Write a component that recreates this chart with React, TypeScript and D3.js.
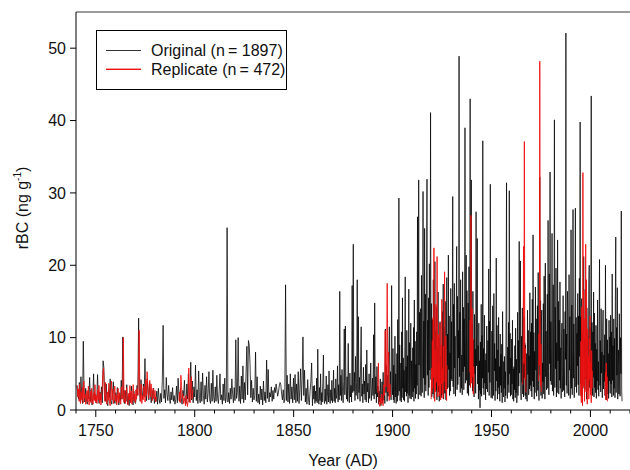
import React from 'react';
import * as d3 from 'd3';

// ---- Data ----
// Original record, 1740.5–1859.9 (25 values per decade)
const originalEarly: number[] = [
  3.4,2.1,1.5,3.8,1.2,4.6,2.0,0.9,9.5,2.2,1.1,3.0,1.4,0.8,2.6,1.5,4.5,1.2,2.8,0.7,1.6,5.0,1.4,2.2,1.0,
  1.3,4.9,1.8,0.9,2.5,1.4,3.2,1.0,6.8,5.9,2.4,1.2,3.6,1.1,0.6,2.9,1.7,4.3,1.3,0.8,2.1,3.9,1.5,0.9,2.4,
  1.0,3.1,1.6,0.7,2.2,1.3,4.1,1.5,10.1,1.8,0.9,2.7,1.2,3.5,0.8,1.9,0.6,2.4,1.1,3.3,1.4,0.7,2.6,1.2,0.9,
  1.6,3.4,2.0,12.7,3.1,1.2,4.2,2.6,1.5,3.6,1.8,7.1,2.2,1.3,4.3,2.5,1.4,3.8,1.9,1.0,2.7,1.5,3.0,0.9,1.8,
  1.2,2.6,0.8,3.0,1.5,0.9,2.3,1.1,4.1,11.7,1.6,2.8,1.0,4.5,2.2,1.3,3.4,1.7,0.9,2.5,1.4,3.1,1.2,2.0,0.8,
  1.5,3.3,1.0,4.4,2.1,1.2,3.0,1.6,0.8,2.7,1.9,4.1,1.3,0.9,3.6,1.5,5.0,1.1,2.4,6.6,1.4,4.0,1.0,3.2,1.8,
  6.2,1.3,2.8,0.9,5.4,1.6,1.0,3.9,1.2,5.1,2.0,0.8,3.4,1.5,4.6,1.1,2.3,5.3,1.4,0.9,3.7,1.2,5.5,1.7,1.0,
  3.2,1.2,4.8,1.6,0.9,2.7,5.0,1.4,2.1,0.8,3.6,1.3,4.4,1.0,1.7,25.2,1.1,2.4,0.9,3.0,1.5,4.3,2.2,1.0,3.1,
  1.3,9.7,1.6,2.4,10.0,1.2,3.3,0.9,4.7,1.5,6.1,1.0,3.8,1.4,5.2,8.8,2.1,9.6,9.0,6.4,1.7,4.1,1.1,3.0,1.4,
  2.0,8.0,1.2,4.6,1.0,2.2,0.8,3.3,1.4,2.9,0.7,4.0,1.3,2.5,1.0,6.9,1.6,5.6,1.1,2.4,1.8,3.2,1.2,2.7,1.5,
  3.1,2.4,3.6,2.8,1.9,2.5,3.3,3.8,3.5,2.2,1.4,2.8,1.0,1.6,17.3,1.3,4.8,1.1,3.6,0.9,5.0,1.5,3.2,1.0,4.4,
  1.4,4.9,1.0,3.6,1.2,5.3,0.9,2.8,5.7,1.3,4.4,10.1,2.0,5.5,1.1,3.0,0.8,4.2,1.5,0.7,2.6,4.0,6.5,0.6,3.3,
];
// Original record, 1860.2–1899.8 (35 values per decade)
const originalMid: number[] = [
  1.5,3.4,0.9,2.6,1.2,4.4,1.0,8.4,1.6,0.8,3.1,1.3,5.0,0.7,2.4,1.1,3.8,7.6,1.4,0.9,2.9,1.2,4.7,0.8,1.9,3.5,1.1,5.4,1.6,0.9,2.8,1.3,4.1,1.0,2.2,
  5.5,1.2,3.0,1.0,4.3,1.6,2.2,6.1,1.1,3.5,1.4,16.4,2.0,4.8,1.3,5.6,2.5,1.0,3.9,11.2,2.1,11.6,3.3,1.5,4.6,1.2,9.2,2.7,1.0,5.1,1.8,3.4,1.1,17.2,2.4,
  22.9,2.6,5.2,1.3,7.4,2.0,3.8,18.0,1.5,12.9,2.4,4.5,1.2,6.8,11.5,1.9,3.6,1.0,5.9,2.2,4.0,1.4,6.3,1.1,8.3,2.5,3.7,1.0,5.0,1.6,3.1,6.5,1.3,2.7,4.4,
  2.0,10.4,1.5,14.8,2.2,4.6,1.0,6.0,1.8,3.3,0.8,2.6,1.1,4.3,0.6,1.7,3.9,1.0,5.2,1.4,3.0,0.9,11.2,2.4,6.1,1.2,4.8,1.9,7.0,11.5,2.2,5.3,1.4,17.2,3.6,
];
// Original record, 1900.0–2016.0 (5 values per year)
const originalLate: number[] = [
  2.1,8.5,1.4,6.2,1.0, 3.3,10.2,1.8,5.0,0.9, 2.4,7.8,1.2,12.5,2.0, 4.1,29.3,2.6,9.0,1.3, 2.8,6.5,1.1,10.8,1.7,
  15.5,3.0,7.2,1.4,5.5, 1.2,8.8,18.4,2.5,6.0, 1.9,11.0,2.3,7.5,1.0, 3.5,16.7,2.0,9.3,1.6, 4.2,12.0,1.5,6.8,2.4,
  1.8,8.6,2.5,11.4,1.2, 15.2,3.0,9.5,1.6,6.3, 2.2,10.8,3.4,26.7,4.0, 1.5,31.8,6.2,13.5,2.1, 3.8,14.0,1.9,18.6,5.1,
  2.4,9.7,30.2,4.4,12.3, 1.7,25.1,3.5,16.0,2.6, 6.0,19.5,31.9,4.8,12.4, 2.0,15.5,3.1,20.2,5.5, 8.0,41.1,4.2,14.7,1.8,
  3.0,12.5,2.2,18.0,4.5, 1.6,9.8,20.5,3.3,11.0, 2.7,14.2,1.4,8.5,3.9, 16.3,2.5,10.1,1.2,6.8, 12.2,3.6,7.4,1.7,9.0,
  2.1,13.6,4.0,17.4,1.5, 5.2,11.5,2.3,15.0,3.4, 1.4,8.2,18.3,2.9,10.5, 3.1,21.4,5.6,13.0,2.0, 7.9,2.6,16.8,4.3,12.2,
  4.0,12.8,29.5,3.2,14.6, 2.2,17.5,5.8,10.2,1.9, 6.4,13.9,22.6,2.8,15.7, 3.5,11.0,7.2,48.9,4.6, 13.5,2.4,18.0,9.7,3.0,
  7.6,2.1,19.1,5.3,14.2, 2.8,12.6,6.0,39.0,3.7, 10.4,21.4,4.1,16.5,2.3, 5.9,14.8,2.0,19.8,7.3, 3.4,43.0,8.1,12.5,31.8,
  4.5,11.8,2.6,16.4,3.1, 9.7,1.8,13.2,5.0,8.4, 2.3,27.4,6.1,10.5,23.7, 3.6,8.9,1.5,12.0,2.7, 6.8,0.3,9.4,2.2,14.6,
  1.9,10.3,4.4,37.2,3.0, 8.5,2.1,13.1,3.7,6.9, 1.4,7.8,2.9,11.6,4.1, 2.5,9.6,5.2,19.5,2.0, 12.3,3.8,31.2,6.5,1.7,
  3.3,10.9,1.6,14.4,4.8, 2.0,16.1,5.4,9.2,1.3, 7.1,2.6,21.0,4.0,11.7, 1.5,8.3,3.1,12.8,2.2, 6.0,1.2,10.5,3.4,7.7,
  2.4,9.1,1.0,13.6,4.6, 1.8,6.7,3.0,7.4,1.1, 5.3,2.0,14.9,31.4,4.2, 1.6,8.7,3.5,12.1,2.4, 30.3,5.0,10.6,1.9,7.2,
  2.1,9.8,3.6,12.4,1.5, 5.7,1.2,6.0,2.8,8.9, 1.7,11.3,2.4,7.0,1.0, 4.2,13.5,2.0,9.6,3.3, 23.3,5.1,8.4,20.6,2.5,
  1.4,10.2,3.8,14.1,2.2, 6.6,1.8,12.9,4.5,9.3, 2.0,9.0,1.5,7.8,3.6, 1.2,13.8,4.9,11.0,2.1, 7.5,2.9,16.2,3.4,10.8,
  2.6,12.0,1.8,15.3,4.0, 24.2,3.2,10.7,1.5,8.1, 2.4,17.0,5.5,12.6,1.9, 6.2,14.4,2.7,19.0,3.5, 1.3,9.5,32.2,4.8,15.1,
  2.0,11.9,13.8,1.6,6.5, 3.9,14.7,2.2,18.5,5.0, 1.5,20.3,4.6,10.9,2.8, 7.4,16.0,3.0,26.2,5.3, 2.1,18.8,6.4,32.9,4.0,
  12.2,3.5,8.8,24.4,2.6, 6.0,17.3,2.0,11.5,40.1, 3.1,14.2,5.7,19.6,1.8, 9.3,2.4,23.5,6.8,15.0, 2.2,12.4,4.1,17.7,3.0,
  8.6,1.6,10.1,12.0,2.5, 4.9,15.8,2.7,11.2,6.3, 1.8,13.6,7.0,52.1,3.4, 10.5,2.3,16.4,13.4,4.2, 2.0,18.7,5.5,12.9,1.6,
  6.4,24.9,3.0,14.5,2.1, 8.2,27.7,4.4,11.9,1.7, 5.0,15.6,27.9,3.2,12.8, 2.4,10.6,6.1,16.1,3.5, 13.0,2.0,18.2,7.4,39.8,
  3.6,12.9,1.9,15.4,5.8, 2.5,11.0,7.2,21.2,3.0, 9.8,2.8,16.7,4.3,13.5, 1.5,14.1,3.7,10.2,2.6, 6.9,17.6,20.0,3.1,11.4,
  3.2,14.0,43.4,5.6,12.1, 2.0,10.8,4.5,16.3,1.8, 13.4,3.1,9.2,2.4,11.7, 1.6,8.4,4.0,15.2,2.8, 6.7,1.9,12.3,20.8,3.4,
  9.6,2.5,14.0,5.1,8.0, 1.7,11.2,13.8,2.9,7.6, 3.9,10.4,2.0,20.0,5.3, 1.4,12.6,3.5,9.7,2.2, 7.8,1.6,12.4,4.0,10.1,
  2.3,13.1,3.6,10.8,1.8, 18.8,4.1,8.9,2.0,12.6, 3.0,9.9,1.7,15.0,23.9, 2.4,11.4,4.8,16.9,1.5, 6.1,8.3,2.2,13.3,3.7,
  1.9,10.0,5.0,27.5,2.6, 1.2,
];

// Replicate record, separate sections
const replicate1741: number[] = [
  3.4,1.8,2.9,1.2,3.6,0.9,2.5,1.4,3.1,1.0,4.0,1.6,2.2,0.8,1.9,
  2.7,1.1,3.3,0.7,1.8,2.6,1.0,3.0,1.5,0.8,2.4,1.3,3.5,1.1,2.0,
  0.9,2.8,1.4,3.4,1.0,2.3,0.7,1.9,3.1,5.1,5.8,2.6,1.2,3.8,1.5,
  0.8,2.5,1.3,3.7,1.1,0.6,2.2,4.0,1.4,2.9,0.9,1.7,3.3,1.2,2.1,
  0.7,1.6,3.0,1.0,2.4,1.3,0.8,3.2,1.5,2.0,10.0,1.1,2.7,0.9,1.8,
  3.1,1.2,0.7,2.3,1.4,3.4,1.0,2.6,0.8,1.9,3.5,1.3,2.2,1.0,2.8,
  1.5,3.0,2.1,5.5,11.0,2.4,1.2,3.6,0.9,2.0,1.4,3.3,2.6,1.1,4.2,
  2.0,5.3,3.4,1.6,2.9,4.1,1.8,3.6,2.5,1.3,3.0,2.2,1.5,2.7,1.1,1.8,
];
const replicate1792: number[] = [1.3,2.5,1.0,4.8,3.4,1.6,2.2,0.9,1.7,1.2,0.6,2.0,1.1,0.5,1.4,5.8,2.3,1.0,3.9,4.6,1.5,2.8];
const replicate1892: number[] = [2.4,6.5,1.0,0.5,1.6,0.8,2.2,1.1,0.6,3.5,2.0,11.0,3.2,4.8,17.5,2.5,8.0,1.3,3.6,1.8];
const replicate1919: number[] = [
  1.5,5.8,2.4,9.6,3.0,12.8,4.5,22.4,6.0,1.2,8.3,2.5,14.6,3.8,7.1,21.2,5.0,1.8,10.4,3.3,
  6.6,2.0,12.0,4.2,1.4,9.0,3.6,15.3,2.2,5.7,1.6,8.8,3.9,11.6,19.1,6.4,2.7,10.2,4.0,1.3,6.2,
];
const replicate1939: number[] = [5.2,12.4,3.1,26.9,8.5,3.7,14.0,4.6,9.8,2.2,6.0,3.4];
const replicate1966: number[] = [3.5,9.0,22.6,6.4,37.1,12.0,4.2,8.5,2.4];
const replicate1974: number[] = [4.0,10.5,6.2,48.2,14.0,3.3,9.1,2.5];
const replicate1995: number[] = [
  2.0,9.5,1.0,14.2,5.8,0.6,32.8,3.3,16.5,8.0,1.2,12.6,4.4,22.9,2.5,18.0,
  6.8,0.8,11.2,3.6,7.4,1.5,9.9,4.2,13.0,2.1,6.5,1.0,8.2,3.0,5.4,
];
const replicate2007: number[] = [2.0,5.2,1.4,6.5,3.0,4.6,1.2];

const yTicks = [0, 10, 20, 30, 40, 50];
const xMajorTicks = [1750, 1800, 1850, 1900, 1950, 2000];
const xMinorTicks = [1740, 1760, 1770, 1780, 1790, 1810, 1820, 1830, 1840, 1860, 1870, 1880, 1890, 1910, 1920, 1930, 1940, 1960, 1970, 1980, 1990, 2010, 2020];

type Pt = [number, number];
function section(vals: number[], y0: number, y1: number): Pt[] {
  const step = (y1 - y0) / (vals.length - 1);
  return vals.map((v, i) => [y0 + i * step, v] as Pt);
}

const FONT = '"Liberation Sans", Arial, Helvetica, sans-serif';
const RED = '#ee1111';

export default function App() {
  const left = 76, right = 630, top = 12, bottom = 410;
  const x = d3.scaleLinear().domain([1740, 2020]).range([left, right]);
  const y = d3.scaleLinear().domain([0, 55]).range([bottom, top]);
  const line = d3.line<Pt>().x(d => x(d[0])).y(d => y(d[1]));

  const original: Pt[] = [
    ...section(originalEarly, 1740.5, 1859.9),
    ...section(originalMid, 1860.2, 1899.8),
    ...section(originalLate, 1900.0, 2016.0),
  ];
  const replicateSections: Pt[][] = [
    section(replicate1741, 1740.6, 1780.6),
    section(replicate1792, 1792.0, 1799.0),
    section(replicate1892, 1892.5, 1899.0),
    section(replicate1919, 1919.5, 1927.5),
    section(replicate1939, 1939.0, 1941.2),
    section(replicate1966, 1965.8, 1967.4),
    section(replicate1974, 1973.8, 1975.2),
    section(replicate1995, 1995.0, 2001.0),
    section(replicate2007, 2007.4, 2008.6),
  ];

  return (
    <svg width={630} height={470} style={{ position: 'absolute', left: 0, top: 0, background: '#fff' }} fontFamily={FONT}>
      <defs>
        <clipPath id="plot">
          <rect x={left} y={top} width={right - left} height={bottom - top} />
        </clipPath>
      </defs>
      <rect x={0} y={0} width={630} height={470} fill="#fff" />
      <g clipPath="url(#plot)">
        <path d={line(original) || ''} fill="none" stroke="#000" strokeWidth={0.75} />
        {replicateSections.map((s, i) => (
          <path key={i} d={line(s) || ''} fill="none" stroke={RED} strokeWidth={0.9} />
        ))}
      </g>
      {/* frame */}
      <line x1={left} x2={right} y1={top} y2={top} stroke="#7a7a7a" strokeWidth={1.4} />
      <line x1={left} x2={left} y1={top} y2={bottom} stroke="#000" strokeWidth={1} />
      <line x1={left} x2={right} y1={bottom} y2={bottom} stroke="#000" strokeWidth={1.2} />
      {/* y ticks */}
      {yTicks.map(t => (
        <g key={t}>
          <line x1={left - 6} x2={left} y1={y(t)} y2={y(t)} stroke="#000" strokeWidth={1} />
          <text x={left - 10} y={y(t)} dy="0.36em" textAnchor="end" fontSize={16} fill="#111">{t}</text>
        </g>
      ))}
      {/* x ticks */}
      {xMajorTicks.map(t => (
        <g key={t}>
          <line x1={x(t)} x2={x(t)} y1={bottom} y2={bottom + 7} stroke="#000" strokeWidth={1} />
          <text x={x(t)} y={435.5} textAnchor="middle" fontSize={16} fill="#111">{t}</text>
        </g>
      ))}
      {xMinorTicks.map(t => (
        <line key={t} x1={x(t)} x2={x(t)} y1={bottom} y2={bottom + 3.5} stroke="#000" strokeWidth={1} />
      ))}
      {/* axis titles */}
      <text x={343} y={465.5} textAnchor="middle" fontSize={16} fill="#111">Year (AD)</text>
      <text transform="translate(28,208) rotate(-90)" textAnchor="middle" fontSize={16} fill="#111">
        rBC (ng g<tspan fontSize={10} dy={-7}>-1</tspan><tspan dy={7}>)</tspan>
      </text>
      {/* legend */}
      <rect x={96.5} y={30.5} width={190} height={59} fill="#fff" stroke="#000" strokeWidth={1} />
      <line x1={106} x2={141} y1={50.5} y2={50.5} stroke="#333" strokeWidth={1} />
      <rect x={106} y={68.6} width={35} height={1.4} fill={RED} />
      <text x={151} y={55.5} fontSize={16} fill="#111">Original (n{'\u2009'}={'\u00a0'}1897)</text>
      <text x={151} y={75} fontSize={16} fill="#111">Replicate (n{'\u2009'}={'\u00a0'}472)</text>
    </svg>
  );
}
